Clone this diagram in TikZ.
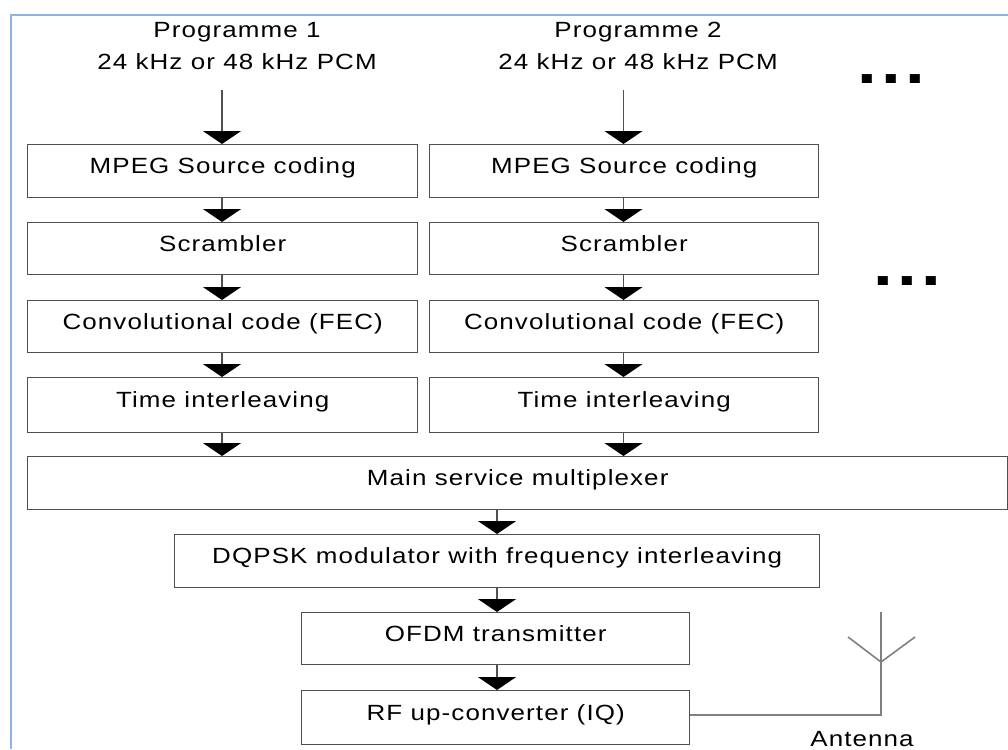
\documentclass[tikz,border=0pt]{standalone}
\usepackage{fontspec}
\setmainfont{Liberation Sans}[FakeStretch=1.18,LetterSpace=5]
\usetikzlibrary{arrows.meta}
\definecolor{bordblue}{HTML}{8DB4E2}
\definecolor{boxgray}{HTML}{505050}
\definecolor{antgray}{HTML}{808080}
\begin{document}
\begin{tikzpicture}[x=1pt,y=-1pt,
  font=\fontsize{22}{26}\selectfont,
  box/.style={draw=boxgray, line width=1.4pt, fill=white, inner sep=0pt,
    text height=12pt, text depth=7pt, anchor=north west},
  arr/.style={draw=boxgray, line width=1.4pt, -{Triangle[width=38pt,length=13pt,black]}},
  lbl/.style={inner sep=0pt, anchor=base},
  dots/.style={inner sep=0pt, anchor=base, font=\fontsize{60}{60}\bfseries},
  antline/.style={draw=antgray, line width=1.6pt}]
\useasboundingbox (0,0) rectangle (1008,749);
\draw[bordblue, line width=2pt] (1008,15) -- (11,15) -- (11,749);

% column 1
\node[lbl] (p1a) at (237,38) {Programme 1};
\node[lbl] (p1b) at (237,70) {24 kHz or 48 kHz PCM};
\coordinate (in1) at (222,90);
\node[box, minimum width=390pt, minimum height=53pt] (ms1) at (27,144) {MPEG Source coding};
\node[box, minimum width=390pt, minimum height=52pt] (sc1) at (27,222) {Scrambler};
\node[box, minimum width=390pt, minimum height=52pt] (cc1) at (27,300) {Convolutional code (FEC)};
\node[box, minimum width=390pt, minimum height=55pt] (ti1) at (27,377) {Time interleaving};

% column 2
\node[lbl] (p2a) at (638,38) {Programme 2};
\node[lbl] (p2b) at (638,70) {24 kHz or 48 kHz PCM};
\coordinate (in2) at (623.5,90);
\node[box, minimum width=389pt, minimum height=53pt] (ms2) at (429,144) {MPEG Source coding};
\node[box, minimum width=389pt, minimum height=52pt] (sc2) at (429,222) {Scrambler};
\node[box, minimum width=389pt, minimum height=52pt] (cc2) at (429,300) {Convolutional code (FEC)};
\node[box, minimum width=389pt, minimum height=55pt] (ti2) at (429,377) {Time interleaving};

% dots
\node[dots] (d1) at (891,84) {.\hspace{4.5pt}.\hspace{4.5pt}.};
\node[dots] (d2) at (907,285) {.\hspace{4.5pt}.\hspace{4.5pt}.};

% common chain
\node[box, minimum width=980pt, minimum height=53pt] (mux) at (27,456) {Main service multiplexer};
\node[box, minimum width=645pt, minimum height=53pt] (dq) at (174,534) {DQPSK modulator with frequency interleaving};
\node[box, minimum width=388pt, minimum height=52pt] (of) at (301,612) {OFDM transmitter};
\node[box, minimum width=388pt, minimum height=54pt] (rf) at (301,690) {RF up-converter (IQ)};

% arrows column 1
\draw[arr] (in1) -- (in1 |- ms1.north);
\draw[arr] (in1 |- ms1.south) -- (in1 |- sc1.north);
\draw[arr] (in1 |- sc1.south) -- (in1 |- cc1.north);
\draw[arr] (in1 |- cc1.south) -- (in1 |- ti1.north);
\draw[arr] (in1 |- ti1.south) -- (in1 |- mux.north);
% arrows column 2
\draw[arr] (in2) -- (in2 |- ms2.north);
\draw[arr] (in2 |- ms2.south) -- (in2 |- sc2.north);
\draw[arr] (in2 |- sc2.south) -- (in2 |- cc2.north);
\draw[arr] (in2 |- cc2.south) -- (in2 |- ti2.north);
\draw[arr] (in2 |- ti2.south) -- (in2 |- mux.north);
% chain arrows
\coordinate (cx) at (497,0);
\draw[arr] (cx |- mux.south) -- (cx |- dq.north);
\draw[arr] (cx |- dq.south) -- (cx |- of.north);
\draw[arr] (cx |- of.south) -- (cx |- rf.north);

% antenna
\coordinate (antfoot) at (881,715);
\coordinate (anttop) at (881,612);
\coordinate (antc) at (881,662);
\coordinate (antl) at (848,637);
\coordinate (antr) at (915,637);
\draw[antline] (rf.east |- antfoot) -- (antfoot) -- (anttop);
\draw[antline] (antl) -- (antc) -- (antr);
\node[lbl] (antlbl) at (862,746) {Antenna};
\end{tikzpicture}
\end{document}
